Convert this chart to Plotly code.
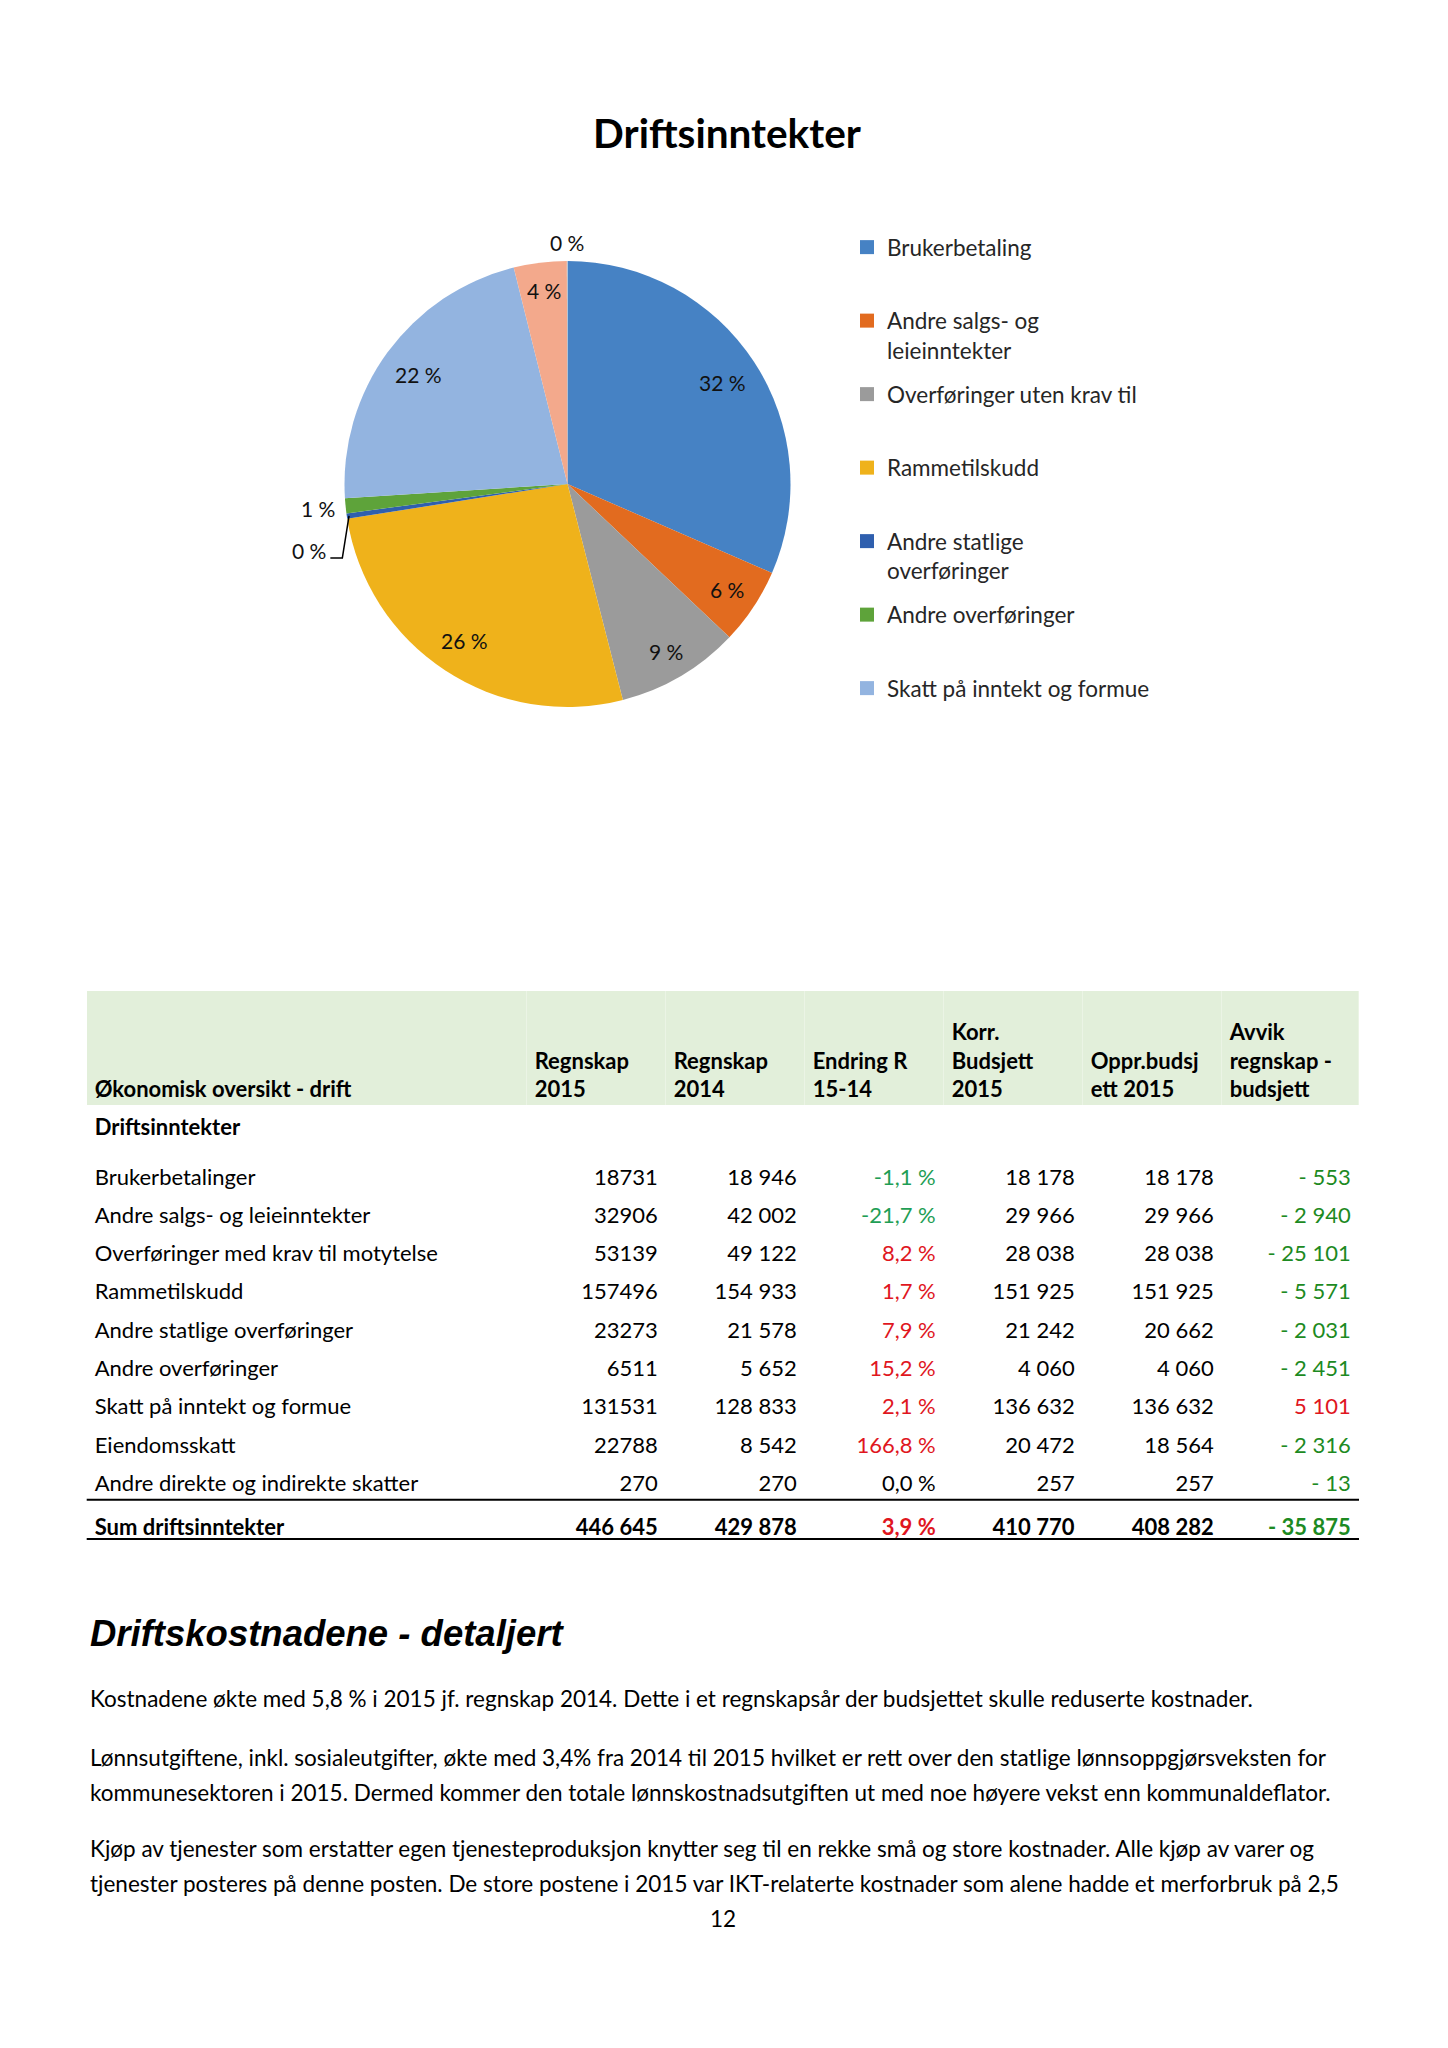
import math
import plotly.graph_objects as go

W, H = 1448, 2048
PAGE_OFF = 8  # default body margin of the html page

# ---------------- pie data ----------------
pie_labels = ["Brukerbetaling", "Andre salgs- og leieinntekter", "Overføringer uten krav til",
              "Rammetilskudd", "Andre statlige overføringer", "Andre overføringer",
              "Skatt på inntekt og formue", "Eiendomsskatt", "Andre direkte og indirekte skatter"]
pie_values = [187400, 32906, 53139, 157496, 2327, 6511, 131531, 22788, 270]
pie_colors = ["#4682c4", "#e26b1f", "#9b9b9b", "#efb21b", "#2f5fae", "#5ea33a",
              "#93b4e0", "#f3a98c", "#c9c9c9"]
legend_labels = ["Brukerbetaling", "Andre salgs- og<br>leieinntekter", "Overføringer uten krav til",
                 "Rammetilskudd", "Andre statlige<br>overføringer", "Andre overføringer",
                 "Skatt på inntekt og formue"]

# ---------------- table data ----------------
row_labels = ["Brukerbetalinger", "Andre salgs- og leieinntekter", "Overføringer med krav til motytelse",
              "Rammetilskudd", "Andre statlige overføringer", "Andre overføringer",
              "Skatt på inntekt og formue", "Eiendomsskatt", "Andre direkte og indirekte skatter"]
regnskap_2015 = [18731, 32906, 53139, 157496, 23273, 6511, 131531, 22788, 270]
regnskap_2014 = [18946, 42002, 49122, 154933, 21578, 5652, 128833, 8542, 270]
endring = [-1.1, -21.7, 8.2, 1.7, 7.9, 15.2, 2.1, 166.8, 0.0]
korr_budsjett = [18178, 29966, 28038, 151925, 21242, 4060, 136632, 20472, 257]
oppr_budsjett = [18178, 29966, 28038, 151925, 20662, 4060, 136632, 18564, 257]
avvik = [-553, -2940, -25101, -5571, -2031, -2451, 5101, -2316, -13]
sum_label = "Sum driftsinntekter"
sum_values = [446645, 429878, 3.9, 410770, 408282, -35875]
section_label = "Driftsinntekter"
header_labels = ["Økonomisk oversikt - drift", "Regnskap|2015", "Regnskap|2014", "Endring R|15-14",
                 "Korr.|Budsjett|2015", "Oppr.budsj|ett 2015", "Avvik|regnskap -|budsjett"]

# ---------------- text ----------------
chart_title = "Driftsinntekter"
heading = "Driftskostnadene - detaljert"
paragraph_lines = [
    "Kostnadene økte med 5,8 % i 2015 jf. regnskap 2014. Dette i et regnskapsår der budsjettet skulle reduserte kostnader.",
    "Lønnsutgiftene, inkl. sosialeutgifter, økte med 3,4% fra 2014 til 2015 hvilket er rett over den statlige lønnsoppgjørsveksten for",
    "kommunesektoren i 2015. Dermed kommer den totale lønnskostnadsutgiften ut med noe høyere vekst enn kommunaldeflator.",
    "Kjøp av tjenester som erstatter egen tjenesteproduksjon knytter seg til en rekke små og store kostnader. Alle kjøp av varer og",
    "tjenester posteres på denne posten. De store postene i 2015 var IKT-relaterte kostnader som alene hadde et merforbruk på 2,5",
]
paragraph_y = [1698, 1757, 1792, 1848, 1883]
page_number = "12"

# ---------------- styles ----------------
FONT = "Lato"
FS = 22.5
FS_T = 22
GREEN_PCT = "#1f9e55"
GREEN_AVV = "#1d8a22"
RED = "#e0161e"
HDR_FILL = "#e2efda"
NBSP = "\u00a0"

# pie geometry (page pixels)
PCX, PCY, PR = 567.5, 484.0, 223.0
label_radius = [0.83, 0.86, 0.87, 0.84, 1.12, 1.125, 0.83, 0.875, 1.085]
label_offset = [(0, 0), (0, 0), (0, 0), (0, 0), (-11, 31), (0, 0), (0, 0), (0, 0), (0, 0)]


def px(x):
    return (x - PAGE_OFF) / W


def py(y):
    return 1 - (y - PAGE_OFF) / H


def fmt_sp(n):
    return f"{n:,}".replace(",", " ")


def fmt_pct(v):
    return f"{v:.1f}".replace(".", ",") + " %"


def fmt_avvik(v):
    return ("- " if v < 0 else "") + fmt_sp(abs(v))


def pct_color(v):
    return GREEN_PCT if v < 0 else (RED if v > 0 else "black")


def avv_color(v):
    return GREEN_AVV if v < 0 else RED


fig = go.Figure()

fig.add_trace(go.Pie(
    labels=pie_labels, values=pie_values, sort=False, direction="clockwise", rotation=0,
    marker=dict(colors=pie_colors, line=dict(width=0)),
    textinfo="none", hoverinfo="label+percent", showlegend=False,
    domain=dict(x=[px(PCX - PR), px(PCX + PR)], y=[py(PCY + PR), py(PCY - PR)]),
))

# legend entries (the Excel legend shows the first seven categories)
for i, lab in enumerate(legend_labels):
    text = lab if "<br>" in lab else lab + "<br>" + NBSP
    fig.add_trace(go.Scatter(
        x=[None], y=[None], mode="markers", name=text, legendgroup=f"g{i}",
        marker=dict(symbol="square", size=14, color=pie_colors[i]), showlegend=True,
    ))

# pie data labels placed on slice bisectors
total = sum(pie_values)
cum = 0.0
annotations = []
shapes = []
for i, v in enumerate(pie_values):
    theta = 2 * math.pi * (cum + v / 2) / total
    cum += v
    rf = label_radius[i]
    dx, dy = label_offset[i]
    lx = PCX + rf * PR * math.sin(theta) + dx
    ly = PCY - rf * PR * math.cos(theta) + dy
    annotations.append(dict(x=px(lx), y=py(ly), xref="paper", yref="paper",
                            xanchor="center", yanchor="middle",
                            text=f"{round(100 * v / total)} %", showarrow=False,
                            font=dict(family=FONT, size=21, color="#111111")))
    if dx or dy:
        ex = PCX + 0.99 * PR * math.sin(theta)
        ey = PCY - 0.99 * PR * math.cos(theta)
        path = (f"M {px(lx + 21)},{py(ly + 7)} L {px(lx + 33)},{py(ly + 7)} "
                f"L {px(ex)},{py(ey)}")
        shapes.append(dict(type="path", path=path, xref="paper", yref="paper",
                           line=dict(color="black", width=1.5)))

# ---------------- tables ----------------
TX0, TX1 = 86.7, 1359.0
colw = [440, 139, 139, 139, 139, 139, 137]
HDR_TOP, HDR_BOT = 991, 1105
HDR_TXT_TOP = 1010
maxl = max(len(h.split("|")) for h in header_labels)
hdr_vals = []
for h in header_labels:
    parts = h.split("|")
    lines = [NBSP] * (maxl - len(parts)) + [f"<b>{p}</b>" for p in parts]
    hdr_vals.append("<br>".join(lines))

# green header band
fig.add_trace(go.Table(
    domain=dict(x=[px(TX0), px(TX1)], y=[py(HDR_BOT), py(HDR_TOP)]),
    columnwidth=colw,
    header=dict(values=[NBSP] * len(colw), fill_color=HDR_FILL, line=dict(width=0, color=HDR_FILL),
                height=HDR_BOT - HDR_TOP, font=dict(family=FONT, size=FS_T, color="black")),
    cells=dict(values=[[] for _ in colw], line=dict(width=0, color="white"), fill_color="white"),
))
# header texts (bottom-aligned inside the band)
fig.add_trace(go.Table(
    domain=dict(x=[px(TX0), px(TX1)], y=[py(HDR_TXT_TOP + 112), py(HDR_TXT_TOP)]),
    columnwidth=colw,
    header=dict(values=hdr_vals, fill_color="rgba(0,0,0,0)", line=dict(width=0, color="rgba(0,0,0,0)"),
                align="left", height=112, font=dict(family=FONT, size=FS_T, color="black")),
    cells=dict(values=[[] for _ in colw], line=dict(width=0, color="rgba(0,0,0,0)"),
               fill_color="rgba(0,0,0,0)"),
))

col_label = row_labels + [f"<b>{sum_label}</b>"]
col_2015 = [str(v) for v in regnskap_2015] + [f"<b>{fmt_sp(sum_values[0])}</b>"]
col_2014 = [fmt_sp(v) for v in regnskap_2014] + [f"<b>{fmt_sp(sum_values[1])}</b>"]
col_end = [fmt_pct(v) for v in endring] + [f"<b>{fmt_pct(sum_values[2])}</b>"]
col_korr = [fmt_sp(v) for v in korr_budsjett] + [f"<b>{fmt_sp(sum_values[3])}</b>"]
col_oppr = [fmt_sp(v) for v in oppr_budsjett] + [f"<b>{fmt_sp(sum_values[4])}</b>"]
col_avv = [fmt_avvik(v) for v in avvik] + [f"<b>{fmt_avvik(sum_values[5])}</b>"]

nrows = len(col_label)
blk = ["black"] * nrows
colors = [blk, blk, blk,
          [pct_color(v) for v in endring] + [pct_color(sum_values[2])],
          blk, blk,
          [avv_color(v) for v in avvik] + [avv_color(sum_values[5])]]

ROW_H = 38.3
SEC_H = 55
T2_TOP = HDR_BOT
T2_BOT = T2_TOP + SEC_H + nrows * ROW_H
fig.add_trace(go.Table(
    domain=dict(x=[px(TX0), px(TX1)], y=[py(T2_BOT), py(T2_TOP)]),
    columnwidth=colw,
    header=dict(values=[f"<b>{section_label}</b>"] + [""] * 6, fill_color="white",
                line=dict(width=0, color="white"), align="left", height=SEC_H,
                font=dict(family=FONT, size=FS_T, color="black")),
    cells=dict(values=[col_label, col_2015, col_2014, col_end, col_korr, col_oppr, col_avv],
               fill_color="white", line=dict(width=0, color="white"), height=ROW_H,
               align=["left"] + ["right"] * 6,
               font=dict(family=FONT, size=FS_T, color=colors)),
))

# rules above and below the sum row
sum_top = T2_TOP + SEC_H + (nrows - 1) * ROW_H - 5
for yy in (sum_top, T2_BOT - 4):
    shapes.append(dict(type="line", xref="paper", yref="paper", x0=px(TX0), x1=px(TX1),
                       y0=py(yy), y1=py(yy), line=dict(color="black", width=2)))

# ---------------- text blocks ----------------
annotations.append(dict(x=px(88), y=py(1633), xref="paper", yref="paper", xanchor="left",
                        yanchor="middle", showarrow=False, text=f"<b><i>{heading}</i></b>",
                        font=dict(family="Liberation Sans", size=36.5, color="black")))
for line, yy in zip(paragraph_lines, paragraph_y):
    annotations.append(dict(x=px(88), y=py(yy), xref="paper", yref="paper", xanchor="left",
                            yanchor="middle", showarrow=False, text=line, align="left",
                            font=dict(family=FONT, size=FS, color="black")))
annotations.append(dict(x=px(723), y=py(1918), xref="paper", yref="paper", showarrow=False,
                        xanchor="center", yanchor="middle",
                        text=page_number, font=dict(family=FONT, size=FS, color="black")))

fig.update_layout(
    width=W, height=H, margin=dict(l=0, r=0, t=0, b=0),
    paper_bgcolor="white", plot_bgcolor="white",
    font=dict(family=FONT, color="black"),
    title=dict(text=f"<b>{chart_title}</b>", x=px(727), xanchor="center", xref="paper",
               y=py(134), yanchor="middle", yref="container",
               font=dict(family=FONT, size=40.5, color="black")),
    xaxis=dict(visible=False), yaxis=dict(visible=False),
    legend=dict(x=px(847), y=py(226), xanchor="left", yanchor="top", traceorder="grouped",
                tracegroupgap=12, valign="top", itemsizing="trace", itemwidth=30,
                bgcolor="rgba(0,0,0,0)", font=dict(family=FONT, size=FS, color="#262626")),
    annotations=annotations, shapes=shapes,
)

fig.write_html("out.html", config={"displayModeBar": False})
